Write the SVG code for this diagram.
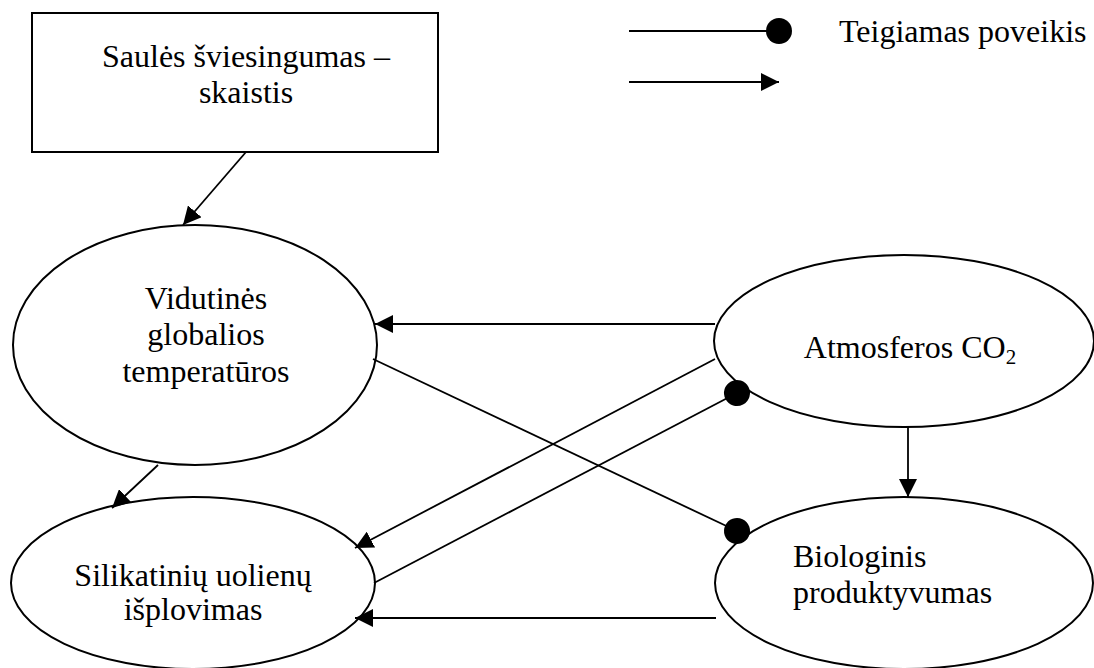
<svg xmlns="http://www.w3.org/2000/svg" width="1094" height="668" viewBox="0 0 1094 668">
<style>
text{font-family:'Liberation Serif','Times New Roman','DejaVu Serif',serif;font-size:32px;fill:#000}
.n{fill:#fff;stroke:#000;stroke-width:2}
.c{stroke:#000;stroke-width:1.8;fill:none}
</style>
<defs>
<marker id="arr" markerUnits="userSpaceOnUse" markerWidth="18" markerHeight="18" viewBox="0 0 16 16" refX="16" refY="8" orient="auto">
<path d="M0,0 L16,8 L0,16 Z" fill="#000"/>
</marker>
<marker id="dot" markerUnits="userSpaceOnUse" markerWidth="28" markerHeight="28" viewBox="0 0 28 28" refX="14" refY="14" orient="auto">
<circle cx="14" cy="14" r="13" fill="#000"/>
</marker>
</defs>
<rect width="1094" height="668" fill="#fff"/>
<g id="legend">
<line class="c" x1="629" y1="31" x2="779" y2="31" marker-end="url(#dot)"/>
<line class="c" x1="629" y1="82" x2="779" y2="82" marker-end="url(#arr)"/>
<text font-family="Liberation Serif" x="839" y="42">Teigiamas poveikis</text>
</g>
<g id="saules">
<rect class="n" x="32" y="13" width="406" height="139"/>
<text text-anchor="middle" x="246" y="67">Saulės šviesingumas –</text>
<text text-anchor="middle" x="246" y="103">skaistis</text>
</g>
<g id="vidutines">
<ellipse class="n" cx="195" cy="345" rx="182" ry="120"/>
<text text-anchor="middle" x="206" y="309">Vidutinės</text>
<text text-anchor="middle" x="206" y="345">globalios</text>
<text text-anchor="middle" x="206" y="382">temperatūros</text>
</g>
<g id="atmosferos">
<ellipse class="n" cx="904" cy="341" rx="190" ry="86"/>
<text text-anchor="middle" x="910" y="358">Atmosferos CO<tspan font-size="21" dy="6">2</tspan></text>
</g>
<g id="silikatiniu">
<ellipse class="n" cx="193" cy="583" rx="182" ry="86"/>
<text text-anchor="middle" x="193" y="586">Silikatinių uolienų</text>
<text text-anchor="middle" x="193" y="620">išplovimas</text>
</g>
<g id="biologinis">
<ellipse class="n" cx="904" cy="583" rx="189" ry="86"/>
<text x="793" y="567">Biologinis</text>
<text x="793" y="603">produktyvumas</text>
</g>
<g id="connectors">
<line class="c" x1="246" y1="152" x2="183" y2="225" marker-end="url(#arr)"/>
<line class="c" x1="158" y1="465" x2="112" y2="508" marker-end="url(#arr)"/>
<line class="c" x1="715" y1="324" x2="375" y2="324" marker-end="url(#arr)"/>
<line class="c" x1="373" y1="359" x2="737" y2="531" marker-end="url(#dot)"/>
<line class="c" x1="715" y1="359" x2="355" y2="548" marker-end="url(#arr)"/>
<line class="c" x1="374" y1="583" x2="737" y2="393" marker-end="url(#dot)"/>
<line class="c" x1="716" y1="618" x2="355" y2="618" marker-end="url(#arr)"/>
<line class="c" x1="908" y1="427" x2="908" y2="497" marker-end="url(#arr)"/>
</g>
</svg>
